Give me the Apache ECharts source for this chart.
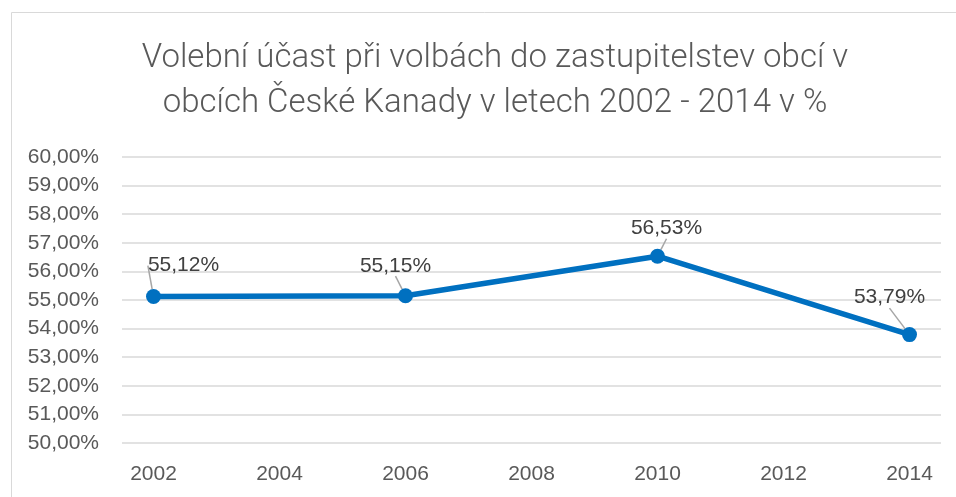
<!DOCTYPE html>
<html><head><meta charset="utf-8">
<script src="https://cdn.jsdelivr.net/npm/echarts@6/dist/echarts.min.js"></script>
<style>html,body{margin:0;padding:0;background:#fff}#c{width:956px;height:497px}</style>
</head><body><div id="c"></div>
<script>
const titleLines = ['Volební účast při volbách do zastupitelstev obcí v', 'obcích České Kanady v letech 2002 - 2014 v %'];
const years = [2002, 2006, 2010, 2014];
const turnout = [55.12, 55.15, 56.53, 53.79];
const xTicks = [2002, 2004, 2006, 2008, 2010, 2012, 2014];

const fmt = v => v.toFixed(2).replace('.', ',') + '%';
const labelShift = [[30, -31], [-10, -30], [9, -28], [-20, -37]];

const chart = echarts.init(document.getElementById('c'));
chart.setOption({
  animation: false,
  graphic: [{type: 'rect', shape: {x: 11.5, y: 12.5, width: 1000, height: 600}, style: {fill: 'none', stroke: '#d9d9d9', lineWidth: 1}, z: -1}],
  title: {
    text: titleLines.join('\n'),
    left: 490, top: 31, textAlign: 'center',
    textStyle: {fontFamily: 'Roboto', fontWeight: 300, fontSize: 33, lineHeight: 45, color: '#595959'}
  },
  grid: {left: 122, right: 15, top: 157, bottom: 54},
  xAxis: {
    type: 'value', min: 2001.5, max: 2014.5,
    axisLine: {show: false}, axisTick: {show: false}, splitLine: {show: false},
    axisLabel: {customValues: xTicks, margin: 21, fontFamily: 'Liberation Sans', fontSize: 21, color: '#595959', formatter: v => String(v)}
  },
  yAxis: {
    type: 'value', min: 50, max: 60, interval: 1,
    axisLine: {show: false}, axisTick: {show: false},
    splitLine: {lineStyle: {color: '#d9d9d9', width: 1.5}},
    axisLabel: {margin: 23, fontFamily: 'Liberation Sans', fontSize: 21, color: '#595959', formatter: v => fmt(v)}
  },
  series: [{
    type: 'line',
    data: years.map((y, i) => [y, turnout[i]]),
    symbol: 'circle', symbolSize: 15,
    lineStyle: {color: '#0070c0', width: 5.5},
    itemStyle: {color: '#0070c0'},
    label: {show: true, position: 'inside', fontFamily: 'Liberation Sans', fontSize: 21, color: '#404040', formatter: p => fmt(p.value[1])},
    labelLine: {show: true, lineStyle: {color: '#a6a6a6', width: 1.5}},
    labelLayout: p => ({dx: labelShift[p.dataIndex][0], dy: labelShift[p.dataIndex][1]})
  }]
});
</script></body></html>
